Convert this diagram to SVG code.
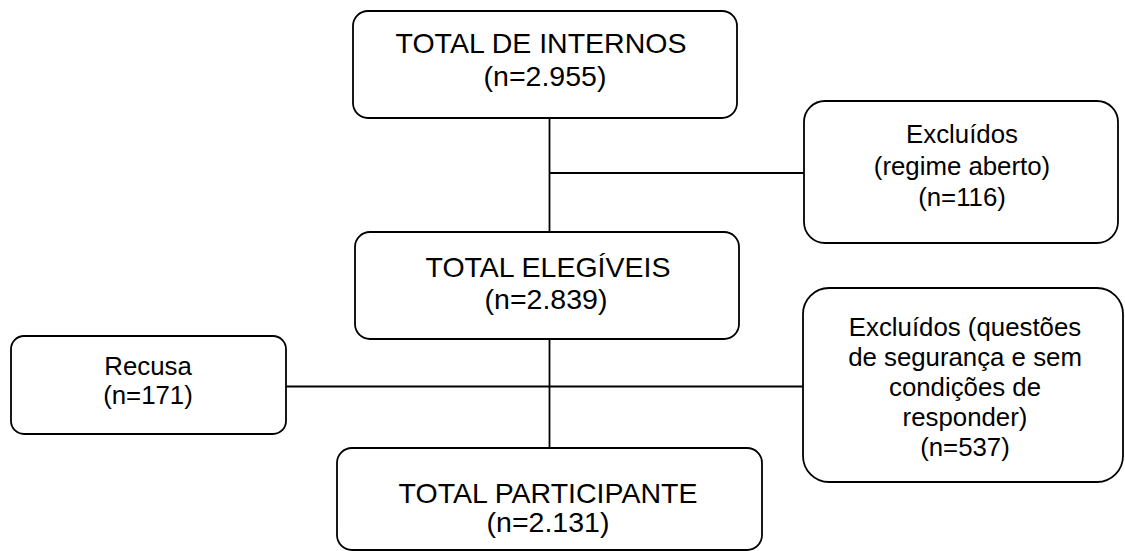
<svg xmlns="http://www.w3.org/2000/svg" width="1125" height="551" viewBox="0 0 1125 551">
<style>
.box{fill:#fff;stroke:#000;stroke-width:1.8}
.ln{stroke:#000;stroke-width:1.8;fill:none}
.big{font-family:"Liberation Sans",Arial,sans-serif;font-size:28.5px;text-anchor:middle;fill:#000}
.sm{font-family:"Liberation Sans",Arial,sans-serif;font-size:25.8px;text-anchor:middle;fill:#000}
</style>
<rect width="1125" height="551" fill="#fff"/>
<g id="connectors">
<line class="ln" x1="549.5" y1="118" x2="549.5" y2="232"/>
<line class="ln" x1="549.5" y1="173" x2="804" y2="173"/>
<line class="ln" x1="549.5" y1="339" x2="549.5" y2="448"/>
<line class="ln" x1="286" y1="386.5" x2="803" y2="386.5"/>
</g>
<g id="total-internos">
<rect class="box" x="353" y="11" width="384" height="107" rx="15"/>
<text class="big" x="541" y="53">TOTAL DE INTERNOS</text>
<text class="big" x="545" y="86">(n=2.955)</text>
</g>
<g id="excluidos-regime">
<rect class="box" x="804" y="101" width="314" height="142" rx="21"/>
<text class="sm" x="962" y="143">Excluídos</text>
<text class="sm" x="962" y="175">(regime aberto)</text>
<text class="sm" x="962" y="206">(n=116)</text>
</g>
<g id="total-elegiveis">
<rect class="box" x="355" y="232" width="384" height="107" rx="15"/>
<text class="big" x="548" y="277">TOTAL ELEGÍVEIS</text>
<text class="big" x="546" y="309">(n=2.839)</text>
</g>
<g id="recusa">
<rect class="box" x="11" y="336" width="275" height="98" rx="13"/>
<text class="sm" x="148" y="375">Recusa</text>
<text class="sm" x="148" y="404">(n=171)</text>
</g>
<g id="excluidos-seguranca">
<rect class="box" x="803" y="288" width="320" height="194" rx="26"/>
<text class="sm" x="965" y="336">Excluídos (questões</text>
<text class="sm" x="965" y="366">de segurança e sem</text>
<text class="sm" x="965" y="396">condições de</text>
<text class="sm" x="965" y="426">responder)</text>
<text class="sm" x="965" y="456">(n=537)</text>
</g>
<g id="total-participante">
<rect class="box" x="337" y="448" width="425" height="102" rx="15"/>
<text class="big" x="548" y="503">TOTAL PARTICIPANTE</text>
<text class="big" x="548" y="532">(n=2.131)</text>
</g>
</svg>
